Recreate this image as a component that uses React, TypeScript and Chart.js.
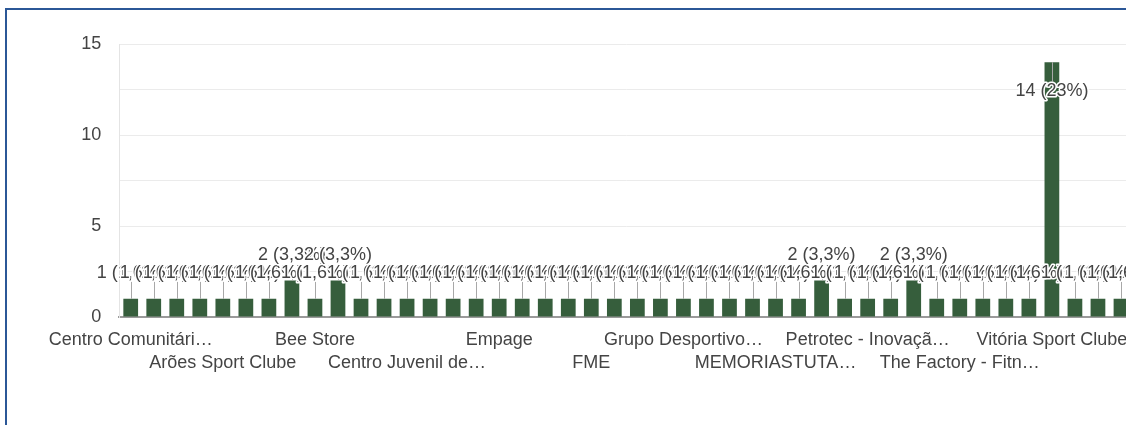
import React, { useEffect, useRef } from "react";
import { Chart, registerables } from "chart.js";

Chart.register(...registerables);

// Categories (only every 4th name is legible in the reference; others are hidden)
const categories: string[] = [
  "Centro Comunitári…", "", "", "",
  "Arões Sport Clube", "", "", "",
  "Bee Store", "", "", "",
  "Centro Juvenil de…", "", "", "",
  "Empage", "", "", "",
  "FME", "", "", "",
  "Grupo Desportivo…", "", "", "",
  "MEMORIASTUTA…", "", "", "",
  "Petrotec - Inovaçã…", "", "", "",
  "The Factory - Fitn…", "", "", "",
  "Vitória Sport Clube", "", "", "",
];

const responses: number[] = [
  1, 1, 1, 1, 1, 1, 1, 2, 1, 2, 1,
  1, 1, 1, 1, 1, 1, 1, 1, 1, 1, 1,
  1, 1, 1, 1, 1, 1, 1, 1, 2, 1, 1,
  1, 2, 1, 1, 1, 1, 1, 14, 1, 1, 1,
];

const yTicks: number[] = [0, 5, 10, 15];

const FONT = '"Liberation Sans", Arial, sans-serif';
const TEXT = "#444444";
const BAR = "#365e3c";

const labelPlugin = {
  id: "barLabels",
  afterDatasetsDraw(chart: any) {
    const { ctx, chartArea } = chart;
    const meta = chart.getDatasetMeta(0);
    const vals: number[] = chart.data.datasets[0].data;
    const total = vals.reduce((a, b) => a + b, 0);
    ctx.save();
    ctx.font = `18px ${FONT}`;
    ctx.textAlign = "center";
    ctx.textBaseline = "middle";
    const items = meta.data.map((bar: any, i: number) => {
      const v = vals[i];
      const pct = ((v / total) * 100).toPrecision(2).replace(".", ",");
      const text = `${v} (${pct}%)`;
      const top = bar.y;
      let cy = top - 25.5;
      let inside = false;
      if (cy - 9 < chartArea.top) {
        cy = top + 28.5;
        inside = true;
      }
      return { x: bar.x, top, cy, inside, text };
    });
    ctx.strokeStyle = "#a8a8a8";
    ctx.lineWidth = 1;
    items.forEach((it: any) => {
      const x = Math.round(it.x) + 0.5;
      ctx.beginPath();
      ctx.moveTo(x, it.top);
      ctx.lineTo(x, it.inside ? it.cy - 9 : it.cy + 8.5);
      ctx.stroke();
    });
    items.forEach((it: any) => {
      ctx.lineWidth = 3;
      ctx.lineJoin = "round";
      ctx.strokeStyle = "#ffffff";
      ctx.strokeText(it.text, it.x, it.cy);
      ctx.fillStyle = TEXT;
      ctx.fillText(it.text, it.x, it.cy);
    });
    ctx.restore();
  },
};

export default function App() {
  const canvasRef = useRef<HTMLCanvasElement | null>(null);

  useEffect(() => {
    if (!canvasRef.current) return;
    const chart = new Chart(canvasRef.current, {
      type: "bar",
      data: {
        labels: categories,
        datasets: [
          {
            data: responses,
            backgroundColor: BAR,
            borderWidth: 0,
            barPercentage: 0.64,
            categoryPercentage: 1,
          },
        ],
      },
      options: {
        animation: false,
        responsive: true,
        maintainAspectRatio: false,
        layout: { padding: { top: 44, right: 17.5, bottom: 0, left: 0 } },
        plugins: {
          legend: { display: false },
          tooltip: { enabled: false },
        },
        scales: {
          x: {
            afterFit: (scale: any) => {
              scale.height = 108;
            },
            grid: { display: true, color: "rgba(0,0,0,0)", drawTicks: false },
            border: { display: true, color: "#9a9a9a", width: 2 },
            ticks: {
              autoSkip: false,
              maxRotation: 0,
              minRotation: 0,
              padding: 11.5,
              color: TEXT,
              font: { family: FONT, size: 18, lineHeight: 1.28 },
              callback: function (this: any, value: any, index: number) {
                const l = categories[index];
                if (!l) return "";
                return Math.floor(index / 4) % 2 === 1 ? ["", l] : l;
              },
            },
          },
          y: {
            min: 0,
            max: 15,
            afterFit: (scale: any) => {
              scale.width = 119.2;
            },
            grid: { color: "#ebebeb", lineWidth: 1, drawTicks: false },
            border: { display: true, color: "#e4e4e4", width: 1 },
            ticks: {
              stepSize: 2.5,
              padding: 18,
              color: TEXT,
              font: { family: FONT, size: 18 },
              callback: (v: any) => (yTicks.includes(Number(v)) ? String(v) : ""),
            },
          },
        },
      },
      plugins: [labelPlugin],
    });
    return () => chart.destroy();
  }, []);

  return (
    <div
      style={{
        position: "fixed",
        left: 0,
        top: 0,
        width: 1126,
        height: 425,
        overflow: "hidden",
        background: "#ffffff",
      }}
    >
      <div style={{ position: "absolute", left: 0, top: 0, width: 1150, height: 425 }}>
        <canvas ref={canvasRef} />
      </div>
      <div
        style={{
          position: "absolute",
          left: 5,
          top: 8,
          width: 1300,
          height: 600,
          borderLeft: "2px solid #2b5797",
          borderTop: "2px solid #2b5797",
          pointerEvents: "none",
        }}
      />
    </div>
  );
}
